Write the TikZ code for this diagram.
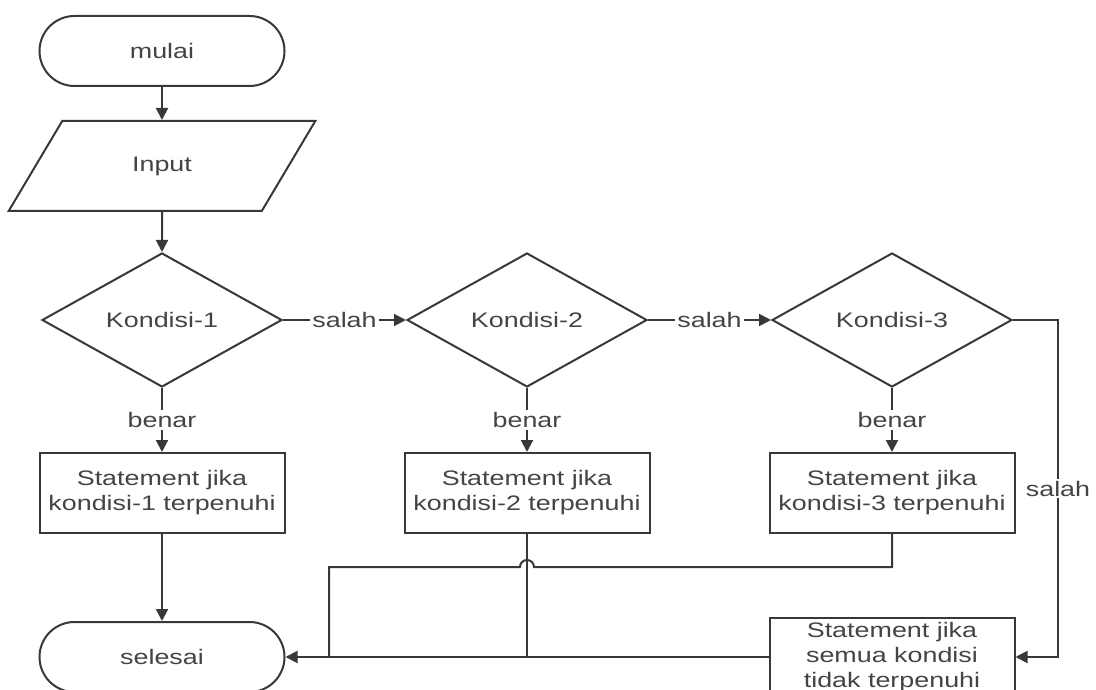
\documentclass[tikz,border=0pt]{standalone}
\usepackage{fontspec}
\setmainfont{Liberation Sans}[FakeStretch=1.28]
\usetikzlibrary{shapes.geometric,arrows.meta}
\definecolor{linegray}{HTML}{383838}
\definecolor{textgray}{HTML}{444444}
\begin{document}
\begin{tikzpicture}[x=1pt,y=-1pt,line width=2pt,color=linegray,
    font=\fontsize{21}{25}\selectfont,
    every node/.style={text=textgray},
    terminal/.style={draw,rounded corners=35pt,minimum width=245pt,minimum height=70pt,inner sep=0pt},
    io/.style={draw,trapezium,trapezium left angle=55,trapezium right angle=125,
      trapezium stretches=true,minimum width=307pt,minimum height=90pt},
    decision/.style={draw,diamond,aspect=1.79,minimum width=240pt,minimum height=134pt,inner sep=0pt},
    process/.style={draw,minimum width=245pt,minimum height=80pt,align=center,inner sep=2pt},
    flow/.style={-{Triangle[length=12pt,width=12pt]}},
    tag/.style={fill=white,inner sep=2pt}]
    \useasboundingbox (0,0) rectangle (1096,690);
    \node[terminal] (mulai) at (162,51) {mulai};
    \node[io] (input) at (162,166) {Input};
    \node[decision] (k1) at (162,320) {Kondisi-1};
    \node[decision] (k2) at (527,320) {Kondisi-2};
    \node[decision] (k3) at (892,320) {Kondisi-3};
    \node[process] (s1) at (162,493) {Statement jika\\kondisi-1 terpenuhi};
    \node[process] (s2) at (527,493) {Statement jika\\kondisi-2 terpenuhi};
    \node[process] (s3) at (892,493) {Statement jika\\kondisi-3 terpenuhi};
    \node[process,minimum height=78pt,inner sep=0pt] (s4) at (892,657)
      {Statement jika\\semua kondisi\\tidak terpenuhi};
    \node[terminal] (selesai) at (162,657) {selesai};
    \coordinate (turn) at (1058,320);
    \coordinate (bend) at (329,567);
    \draw[flow] (mulai) -- (input);
    \draw[flow] (input) -- (k1);
    \draw[flow] (k1) -- node[tag] {salah} (k2);
    \draw[flow] (k2) -- node[tag] {salah} (k3);
    \foreach \i in {1,2,3}
      \draw[flow] (k\i) -- node[tag] {benar} (s\i);
    \draw[flow] (s1) -- (selesai);
    \draw[flow] (k3.east) -- (turn) -- node[tag] {salah} (turn |- s4.east) -- (s4.east);
    \draw[flow] (s4.west) -- (selesai.east);
    \draw (s2.south) -- (s2.south |- s4.west);
    \draw (s3.south) -- (s3.south |- bend) -- ([xshift=7pt]s2.south |- bend)
      arc[start angle=0,end angle=180,radius=7pt] -- (bend) -- (bend |- s4.west);
\end{tikzpicture}
\end{document}
